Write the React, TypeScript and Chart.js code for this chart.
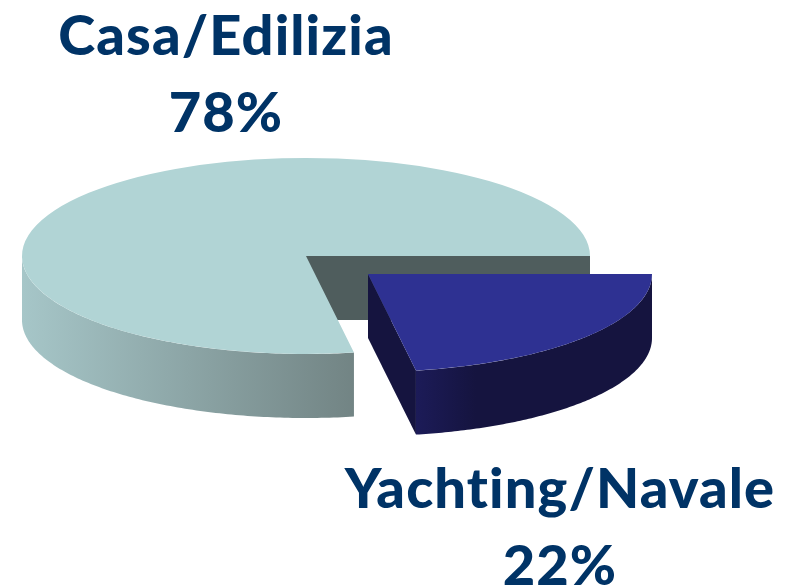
import React, { useEffect, useRef } from "react";
import { Chart, registerables } from "chart.js";

Chart.register(...registerables);

// Data
const categories = ["Yachting/Navale", "Casa/Edilizia"];
const shares = [22.3, 77.7];

// Style
const topColors = ["#2e3192", "#b1d4d5"];
const faceColors = ["#15143f", "#4f5d5d"];
const wallStops = [
  ["#1c1b58", "#15143f"],
  ["#a6c6c8", "#728484"],
];
const explode = [
  { x: 62, y: 18 },
  { x: 0, y: 0 },
];
const labelPos = [
  { x: 560, y: 508 },
  { x: 226, y: 55 },
];
const LINE_GAP = 77;
const TEXT_COLOR = "#003366";
const CX = 306;
const CY = 256;
const RX = 284;
const RY = 98;
const DEPTH = 64;

const pie3d = {
  id: "pie3d",
  beforeDatasetDraw(chart: any, args: any) {
    const ctx: CanvasRenderingContext2D = chart.ctx;
    const arcs = args.meta.data;
    const pt = (i: number, a: number, dy = 0): [number, number] => [
      CX + explode[i].x + RX * Math.cos(a),
      CY + explode[i].y + RY * Math.sin(a) + dy,
    ];
    // the large back slice first, then the exploded one
    [1, 0].forEach((i) => {
      const arc = arcs[i];
      const { startAngle, endAngle, x, y, outerRadius } = arc;
      const cx = CX + explode[i].x;
      const cy = CY + explode[i].y;

      // radial face at the end of the slice
      const [ex, ey] = pt(i, endAngle);
      ctx.fillStyle = faceColors[i];
      ctx.beginPath();
      ctx.moveTo(cx, cy);
      ctx.lineTo(ex, ey);
      ctx.lineTo(ex, ey + DEPTH);
      ctx.lineTo(cx, cy + DEPTH);
      ctx.closePath();
      ctx.fill();

      // outer wall: the part of the rim on the viewer's side
      const from = startAngle;
      const to = Math.min(endAngle, Math.PI);
      const xa = pt(i, from)[0];
      const xb = pt(i, to)[0];
      const grad = ctx.createLinearGradient(xb, 0, i === 1 ? xa : xb + 60, 0);
      grad.addColorStop(0, wallStops[i][0]);
      grad.addColorStop(1, wallStops[i][1]);
      ctx.fillStyle = grad;
      ctx.beginPath();
      const steps = 120;
      for (let s = 0; s <= steps; s++) {
        const p = pt(i, from + ((to - from) * s) / steps);
        if (s === 0) ctx.moveTo(p[0], p[1]);
        else ctx.lineTo(p[0], p[1]);
      }
      for (let s = steps; s >= 0; s--) {
        const p = pt(i, from + ((to - from) * s) / steps, DEPTH);
        ctx.lineTo(p[0], p[1]);
      }
      ctx.closePath();
      ctx.fill();

      // top face: the library's own arc, squashed into an ellipse
      ctx.save();
      ctx.translate(cx, cy);
      ctx.scale(RX / outerRadius, RY / outerRadius);
      ctx.translate(-x, -y);
      arc.draw(ctx);
      ctx.restore();
    });
    return false;
  },
  afterDraw(chart: any) {
    const ctx: CanvasRenderingContext2D = chart.ctx;
    ctx.save();
    ctx.fillStyle = TEXT_COLOR;
    ctx.font = '900 56px Lato, "Open Sans", sans-serif';
    (ctx as any).letterSpacing = "1.1px";
    ctx.textAlign = "center";
    ctx.textBaseline = "alphabetic";
    categories.forEach((name, i) => {
      ctx.fillText(name, labelPos[i].x, labelPos[i].y);
      ctx.fillText(
        `${Math.round(shares[i])}%`,
        labelPos[i].x,
        labelPos[i].y + LINE_GAP
      );
    });
    ctx.restore();
  },
};

export default function App() {
  const ref = useRef<HTMLCanvasElement>(null);
  useEffect(() => {
    const chart = new Chart(ref.current!, {
      type: "pie",
      data: {
        labels: categories,
        datasets: [
          {
            data: shares,
            backgroundColor: topColors,
            borderWidth: 0,
            clip: false,
          } as any,
        ],
      },
      options: {
        animation: false,
        responsive: false,
        rotation: 90,
        layout: { padding: 0 },
        plugins: { legend: { display: false }, tooltip: { enabled: false } },
      },
      plugins: [pie3d as any],
    });
    return () => chart.destroy();
  }, []);
  return (
    <canvas
      ref={ref}
      width={794}
      height={588}
      style={{
        position: "absolute",
        left: 0,
        top: 0,
        width: 794,
        height: 588,
        filter: "blur(0.5px)",
      }}
    />
  );
}
